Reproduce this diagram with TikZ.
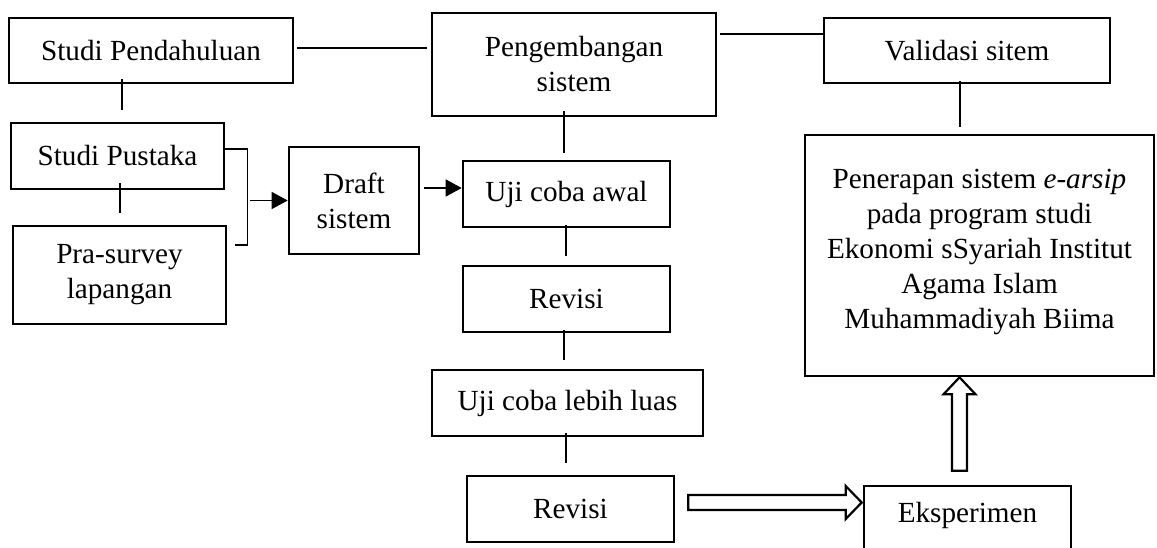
\documentclass[tikz,border=0pt]{standalone}
\usepackage{fontspec}
\setmainfont{Liberation Serif}
\usetikzlibrary{arrows.meta,calc}
\begin{document}
\begin{tikzpicture}[x=0.5pt,y=-0.5pt,
  box/.style={draw, line width=1.3pt, inner sep=0pt, align=center,
    font=\fontsize{14.6}{17.5}\selectfont},
  conn/.style={line width=0.6pt},
  arr/.style={conn, -{Triangle[length=8pt,width=8.5pt]}},
  hollow/.style={draw, line width=1.1pt, fill=white, line join=miter}]
\clip (0,0) rectangle (1157,547);
% boxes
\node[box, minimum width=142pt, minimum height=32.5pt] (sp) at (151,50.5) {Studi Pendahuluan};
\node[box, minimum width=142pt, minimum height=51.5pt] (peng) at (574,64.5) {Pengembangan\\sistem};
\node[box, minimum width=143pt, minimum height=32.5pt] (val) at (967,50.5) {Validasi sitem};
\node[box, minimum width=106.5pt, minimum height=33pt] (pus) at (117.5,156) {Studi Pustaka};
\node[box, minimum width=106.5pt, minimum height=49pt] (pra) at (119.5,275) {Pra-survey\\lapangan};
\node[box, minimum width=65pt, minimum height=53.5pt] (draft) at (354,200.5) {Draft\\sistem};
\node[box, minimum width=103.5pt, minimum height=33pt] (uji1) at (566.5,194) {Uji coba awal};
\node[box, minimum width=103.5pt, minimum height=33pt] (rev1) at (566.5,299) {Revisi};
\node[box, minimum width=135.5pt, minimum height=33pt] (uji2) at (567.5,403) {Uji coba lebih luas};
\node[box, minimum width=103.5pt, minimum height=33pt] (rev2) at (570.5,509) {Revisi};
\node[box, minimum width=103.5pt, minimum height=47pt] (eks) at (967.5,533)
  {\raisebox{9pt}[\height][\depth]{Eksperimen}};
\node[box, minimum width=174.5pt, minimum height=120.5pt] (pen) at (979.5,255.5)
  {\raisebox{2pt}[\height][\depth]{\begin{tabular}{@{}c@{}}Penerapan sistem \textit{e-arsip}\\pada program studi\\Ekonomi sSyariah Institut\\Agama Islam\\Muhammadiyah Biima\end{tabular}}};
% plain connectors
\draw[conn] ([shift={(3,-2.5)}]sp.east) -- ([shift={(-4,-16.5)}]peng.west);
\draw[conn] ([shift={(3,-30.5)}]peng.east) -- ([shift={(0,-16.5)}]val.west);
\draw[conn] ([shift={(-29,-5)}]sp.south) -- ([shift={(4.5,-12)}]pus.north);
\draw[conn] ([shift={(2.5,-7)}]pus.south) -- ([shift={(0.5,-12)}]pra.north);
\draw[conn] ([shift={(-10,-6)}]peng.south) -- ([shift={(-2.5,-7)}]uji1.north);
\draw[conn] ([shift={(-0.5,-3)}]uji1.south) -- ([shift={(-0.5,-9)}]rev1.north);
\draw[conn] ([shift={(-2.5,-3)}]rev1.south) -- ([shift={(-3.5,-9)}]uji2.north);
\draw[conn] ([shift={(-1.5,-4)}]uji2.south) -- ([shift={(-4.5,-12)}]rev2.north);
\draw[conn] ([shift={(-7,-3)}]val.south) -- ([shift={(-19.5,-7)}]pen.north);
% bracket and arrows
\draw[conn] ([shift={(0,-7)}]pus.east) -| ([shift={(-40,44.5)}]draft.west) -- ([shift={(8,-30)}]pra.east);
\draw[arr] ([shift={(-38,0)}]draft.west) -- (draft.west);
\draw[arr] ([shift={(4,-12.5)}]draft.east) -- ([shift={(0,-6)}]uji1.west);
% hollow arrows
\coordinate (ha) at ([shift={(13,-6.5)}]rev2.east);
\coordinate (hb) at ([shift={(-1,-30.5)}]eks.west);
\draw[hollow] ($(ha)+(0,-7.5)$) -- ($(hb)+(-16,-7.5)$) -- ($(hb)+(-16,-16.5)$) -- (hb)
  -- ($(hb)+(-16,16.5)$) -- ($(hb)+(-16,7.5)$) -- ($(ha)+(0,7.5)$) -- cycle;
\coordinate (va) at ([shift={(-8,-14)}]eks.north);
\coordinate (vb) at ([shift={(-20,0)}]pen.south);
\draw[hollow] ($(va)+(-7.5,0)$) -- ($(vb)+(-7.5,17)$) -- ($(vb)+(-16,17)$) -- (vb)
  -- ($(vb)+(16,17)$) -- ($(vb)+(7.5,17)$) -- ($(va)+(7.5,0)$) -- cycle;
\end{tikzpicture}
\end{document}
